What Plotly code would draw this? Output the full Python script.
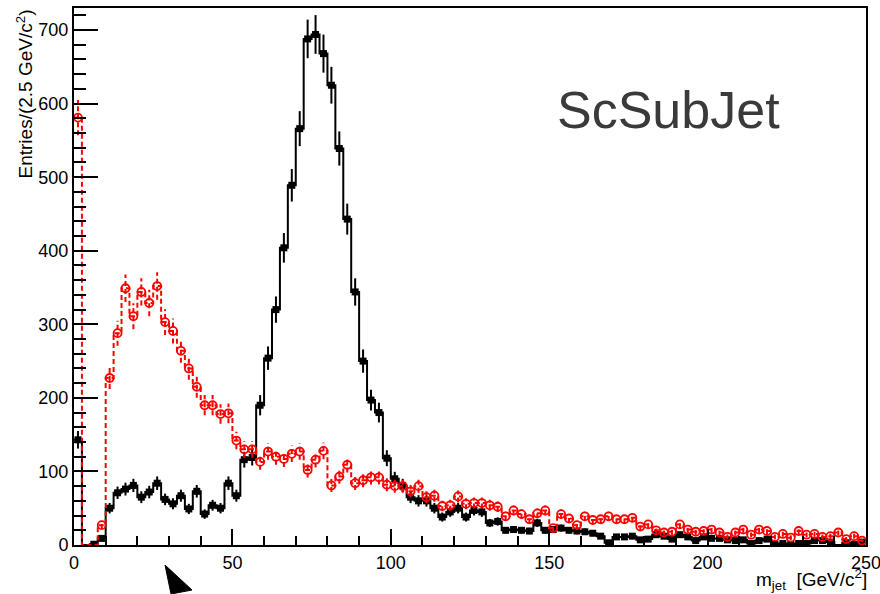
import numpy as np
import plotly.graph_objects as go

# ---- data: 100 bins of 2.5 GeV from 0 to 250 ----
bin_width = 2.5
n_bins = 100
black_counts = [143, 0, 1, 9, 50, 71, 76, 81, 65, 72,
                84, 62, 56, 67, 49, 73, 42, 54, 50, 84,
                67, 116, 119, 190, 254, 320, 404, 489, 566, 688,
                694, 668, 625, 539, 443, 344, 250, 197, 180, 118,
                90, 81, 65, 60, 60, 50, 38, 45, 50, 38,
                47, 45, 30, 32, 20, 21, 20, 19, 30, 20,
                21, 23, 20, 19, 18, 16, 12, 3, 11, 11,
                12, 7, 8, 14, 12, 8, 14, 11, 6, 11,
                9, 9, 7, 6, 7, 2, 6, 8, 1, 2,
                1, 2, 2, 6, 6, 4, 0, 3, 1, 4]
red_counts = [581, 0, 0, 27, 227, 288, 349, 311, 344, 329,
              352, 303, 291, 264, 240, 215, 190, 190, 178, 179,
              142, 130, 130, 113, 127, 120, 117, 124, 127, 102,
              116, 128, 81, 93, 109, 84, 88, 92, 92, 82,
              80, 80, 73, 80, 65, 67, 53, 54, 66, 56,
              57, 57, 54, 52, 39, 47, 42, 35, 43, 47,
              23, 42, 36, 27, 39, 34, 35, 39, 35, 35,
              37, 25, 28, 20, 17, 18, 28, 21, 18, 19,
              21, 17, 11, 17, 21, 14, 21, 19, 11, 15,
              10, 19, 14, 15, 11, 12, 17, 8, 12, 6]
x_ticks = [0, 50, 100, 150, 200, 250]
y_ticks = [0, 100, 200, 300, 400, 500, 600, 700]
label_text = "ScSubJet"
x_title = "m<sub>jet</sub>  [GeV/c<sup>2</sup>]"
y_title = "Entries/(2.5 GeV/c<sup>2</sup>)"

edges = np.arange(n_bins + 1) * bin_width
centers = edges[:-1] + bin_width / 2

FONT = "Liberation Sans, Arial, Helvetica, sans-serif"


def step_xy(vals):
    v = list(vals)
    return list(edges), v + [v[-1]]


def err_xy(vals):
    xs, ys = [], []
    for c, v in zip(centers, vals):
        if v <= 0:
            continue
        e = np.sqrt(v)
        xs += [c, c, None]
        ys += [v - e, v + e, None]
    return xs, ys


def marker_xy(vals):
    xs = [c for c, v in zip(centers, vals) if v > 0]
    ys = [v for v in vals if v > 0]
    return xs, ys


fig = go.Figure()

# black histogram
sx, sy = step_xy(black_counts)
fig.add_trace(go.Scatter(x=sx, y=sy, mode="lines", line=dict(color="black", width=2, shape="hv"),
                         hoverinfo="skip", showlegend=False))
ex, ey = err_xy(black_counts)
fig.add_trace(go.Scatter(x=ex, y=ey, mode="lines", line=dict(color="black", width=2),
                         hoverinfo="skip", showlegend=False))
mx, my = marker_xy(black_counts)
fig.add_trace(go.Scatter(x=mx, y=my, mode="markers",
                         marker=dict(symbol="square", size=7, color="black"), showlegend=False))

# red histogram
sx, sy = step_xy(red_counts)
fig.add_trace(go.Scatter(x=sx, y=sy, mode="lines",
                         line=dict(color="#ff0000", width=2, shape="hv", dash="5px,3px"),
                         hoverinfo="skip", showlegend=False))
ex, ey = err_xy(red_counts)
fig.add_trace(go.Scatter(x=ex, y=ey, mode="lines",
                         line=dict(color="#ff0000", width=2, dash="5px,3px"),
                         hoverinfo="skip", showlegend=False))
mx, my = marker_xy(red_counts)
fig.add_trace(go.Scatter(x=mx, y=my, mode="markers",
                         marker=dict(symbol="circle-open", size=8, color="#ff0000",
                                     line=dict(width=1.8, color="#ff0000")),
                         showlegend=False))

fig.update_xaxes(range=[0, 250], tickvals=x_ticks, ticktext=[str(t) for t in x_ticks],
                 ticks="inside", ticklen=16, tickwidth=1.5, tickcolor="black",
                 minor=dict(ticks="inside", ticklen=9, dtick=10, tickwidth=1.5, tickcolor="black"),
                 showline=True, linecolor="black", linewidth=2, mirror=True,
                 showgrid=False, zeroline=False, ticklabeloverflow="allow", automargin=False,
                 tickfont=dict(family=FONT, size=18, color="black"))
fig.update_yaxes(range=[0, 730], tickvals=y_ticks, ticktext=[str(t) for t in y_ticks],
                 ticks="inside", ticklen=24, tickwidth=1.5, tickcolor="black",
                 minor=dict(ticks="inside", ticklen=12, dtick=20, tickwidth=1.5, tickcolor="black"),
                 showline=True, linecolor="black", linewidth=2, mirror=True,
                 showgrid=False, zeroline=False, ticklabeloverflow="allow", automargin=False,
                 tickfont=dict(family=FONT, size=18, color="black"))

fig.add_annotation(text=label_text, xref="paper", yref="paper",
                   x=(555 - 74) / 792, y=(545 - 110) / 537, xanchor="left", yanchor="middle",
                   showarrow=False, font=dict(family=FONT, size=52, color="#3a3a3a"))
fig.add_annotation(text=y_title, xref="paper", yref="paper", textangle=-90,
                   x=(24 - 74) / 792, y=(545 - 8) / 537, xanchor="center", yanchor="top",
                   showarrow=False, font=dict(family=FONT, size=19, color="black"))
fig.add_annotation(text=x_title, xref="paper", yref="paper",
                   x=(869 - 74) / 792, y=(545 - 579) / 537, xanchor="right", yanchor="middle",
                   showarrow=False, font=dict(family=FONT, size=19, color="black"))

# small black pointer triangle below the axis
def px(xp, yp):
    return (xp - 74) / 792, (545 - yp) / 537

p1, p2, p3 = px(165, 565), px(192, 590), px(171, 594)
fig.add_shape(type="path", xref="paper", yref="paper",
              path=f"M {p1[0]},{p1[1]} L {p2[0]},{p2[1]} L {p3[0]},{p3[1]} Z",
              fillcolor="black", line=dict(color="black", width=1))

fig.update_layout(width=880, height=594, margin=dict(l=74, r=14, t=8, b=49),
                  plot_bgcolor="white", paper_bgcolor="white",
                  font=dict(family=FONT, color="black"))

fig.write_html("out.html")
